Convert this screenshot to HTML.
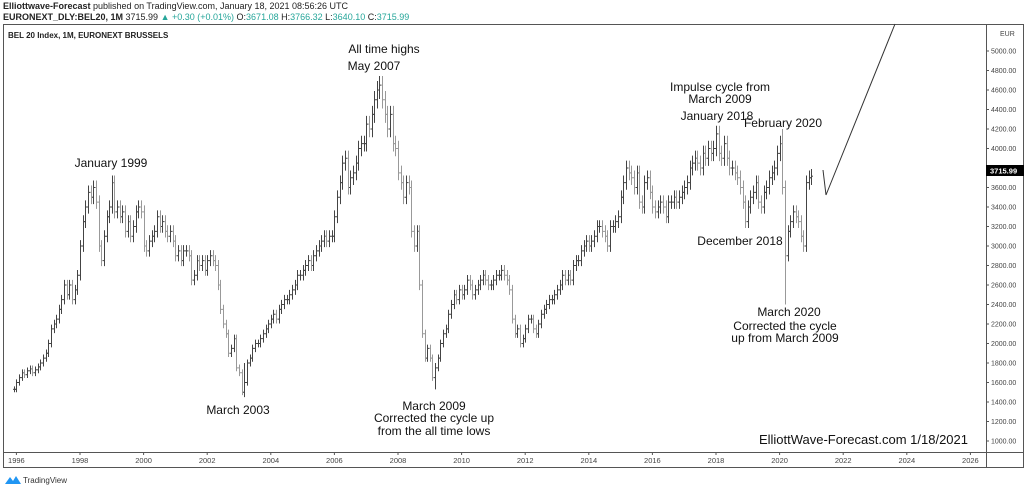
<!DOCTYPE html>
<html><head><meta charset="utf-8">
<style>
body{margin:0;width:1024px;height:489px;background:#fff;overflow:hidden;font-family:"Liberation Sans",sans-serif}
svg text{font-family:"Liberation Sans",sans-serif}
</style></head>
<body>
<svg id="c" width="1024" height="489" xmlns="http://www.w3.org/2000/svg">
<text x="3" y="9" font-size="9" fill="#222"><tspan font-weight="bold">Elliottwave-Forecast</tspan> published on TradingView.com, January 18, 2021 08:56:26 UTC</text>
<text x="3" y="20" font-size="9" fill="#222"><tspan font-weight="bold">EURONEXT_DLY:BEL20, 1M</tspan> 3715.99 <tspan fill="#26a69a">▲ +0.30 (+0.01%)</tspan> O:<tspan fill="#26a69a">3671.08</tspan> H:<tspan fill="#26a69a">3766.32</tspan> L:<tspan fill="#26a69a">3640.10</tspan> C:<tspan fill="#26a69a">3715.99</tspan></text>
<rect x="3.5" y="24.5" width="1020" height="443" fill="none" stroke="#555" stroke-width="1"/>
<line x1="986.5" y1="24" x2="986.5" y2="468" stroke="#555"/>
<line x1="3" y1="452.5" x2="1024" y2="452.5" stroke="#555"/>
<text x="8" y="38" font-size="8" font-weight="bold" fill="#222">BEL 20 Index, 1M, EURONEXT BRUSSELS</text>
<g id="yax"></g><g id="xax"></g><g id="bars"></g>
<polyline points="823,170 826,195 895,24" fill="none" stroke="#333" stroke-width="1"/>
<g font-size="12" fill="#111" text-anchor="middle">
<text x="111" y="167">January 1999</text>
<text x="384" y="53">All time highs</text>
<text x="374" y="70">May 2007</text>
<text x="238" y="414">March 2003</text>
<text x="434" y="410">March 2009</text>
<text x="434" y="422">Corrected the cycle up</text>
<text x="434" y="435">from the all time lows</text>
<text x="720" y="91">Impulse cycle from</text>
<text x="720" y="103">March 2009</text>
<text x="717" y="120">January 2018</text>
<text x="783" y="127">February 2020</text>
<text x="740" y="245">December 2018</text>
<text x="789" y="316">March 2020</text>
<text x="785" y="330">Corrected the cycle</text>
<text x="785" y="342">up from March 2009</text>
</g>
<text x="968" y="444" font-size="13" fill="#111" text-anchor="end">ElliottWave-Forecast.com 1/18/2021</text>
<rect x="986" y="165" width="38" height="11" fill="#000"/>
<text x="990" y="173.5" font-size="7.5" fill="#fff" font-weight="bold">3715.99</text>
<text x="1000" y="36" font-size="7" fill="#444">EUR</text>
<path d="M5 484 l5 -7 l3 4 l3 -5 l5 8 z" fill="#2196f3"/>
<text x="23" y="483" font-size="8" fill="#333">TradingView</text>
</svg>
<script>
const startYear = 1995 + 11/12;
const closes = [1530,
1600,1650,1700,1680,1720,1740,1700,1730,1760,1800,1850,1900,
2000,2150,2200,2250,2350,2450,2600,2500,2600,2450,2550,2700,
3000,3250,3400,3550,3500,3600,3450,3000,2850,3100,3300,3400,
3650,3350,3400,3300,3350,3150,3250,3100,3200,3350,3400,3350,
3000,2950,3050,3100,3150,3300,3200,3250,3150,3100,3150,3050,
2900,2950,2850,2950,2950,2900,2650,2700,2850,2800,2850,2750,
2850,2900,2850,2800,2600,2350,2200,2100,1900,1950,2050,1750,
1700,1500,1600,1800,1850,1950,2000,2000,2050,2100,2150,2200,
2250,2300,2250,2350,2400,2450,2450,2500,2550,2600,2700,2700,
2750,2800,2850,2800,2900,2950,3000,3050,3100,3050,3100,3100,
3300,3500,3650,3850,3900,3600,3700,3750,3850,4000,4050,4050,
4250,4200,4350,4500,4600,4650,4500,4350,4200,4350,4050,4000,
3750,3650,3500,3650,3600,3150,3000,3150,2600,2100,1850,1950,
1850,1650,1750,1850,2000,2100,2150,2300,2400,2500,2450,2550,
2500,2550,2650,2600,2500,2550,2600,2650,2700,2650,2600,2600,
2650,2700,2700,2750,2700,2650,2550,2250,2100,2150,2000,2050,
2150,2250,2250,2150,2100,2200,2300,2350,2400,2450,2450,2500,
2550,2600,2700,2650,2700,2650,2800,2850,2850,2950,3000,3050,
3000,3050,3100,3200,3200,3150,3100,3000,3200,3200,3250,3300,
3500,3650,3800,3750,3700,3600,3750,3450,3400,3650,3700,3550,
3400,3350,3400,3450,3400,3300,3450,3450,3500,3450,3500,3550,
3600,3650,3800,3850,3900,3850,3800,3950,3900,4000,3950,4000,
4150,3950,3900,4050,3900,3800,3800,3750,3700,3600,3450,3250,
3400,3500,3550,3650,3450,3400,3550,3600,3700,3750,3800,3950,
4050,3600,2900,3150,3250,3350,3300,3250,3100,3000,3650,3700,
3716];
const extremeMonths = [87,159,290,291];
const extremeHighs = [1800,1800,4200,3650];
const extremeLows = [1450,1530,3550,2400];
const priceTicks = [1000,1200,1400,1600,1800,2000,2200,2400,2600,2800,3000,3200,3400,3600,3800,4000,4200,4400,4600,4800,5000];
const yearTicks = [1996,1998,2000,2002,2004,2006,2008,2010,2012,2014,2016,2018,2020,2022,2024,2026];

const NS='http://www.w3.org/2000/svg';
function yS(v){return 51+(5000-v)*0.0975;}
function xS(t){return 80+(t-1998)*31.8;}
function mk(tag,attrs,parent){const e=document.createElementNS(NS,tag);for(const k in attrs)e.setAttribute(k,attrs[k]);parent.appendChild(e);return e;}
const yax=document.getElementById('yax'),xax=document.getElementById('xax'),bars=document.getElementById('bars');
priceTicks.forEach(v=>{
  const y=yS(v);
  const t=mk('line',{x1:986,x2:989,y1:y,y2:y,stroke:'#555'},yax);
  
  
  const l=mk('text',{x:991,y:y+2.5,'font-size':7,fill:'#444'},yax);
  l.textContent=v.toFixed(2);
  
  
});
yearTicks.forEach(yr=>{
  const x=xS(yr);
  const t=mk('line',{x1:x,x2:x,y1:452,y2:455,stroke:'#555'},xax);
  
  
  const l=mk('text',{x:x,y:463,'font-size':7.5,fill:'#444','text-anchor':'middle'},xax);
  l.textContent=yr;
  
  
});
for(let i=0;i<closes.length;i++){
  const c=closes[i], o=i>0?closes[i-1]:c;
  let hi=Math.max(o,c)*1.02, lo=Math.min(o,c)*0.98;
  const k=extremeMonths.indexOf(i);
  if(k>=0){hi=Math.max(hi,extremeHighs[k]);lo=Math.min(lo,extremeLows[k]);}
  const x=Math.round(xS(startYear+i/12))+0.5;
  const col=c>=o?'#444':'#999';
  const g=mk('g',{stroke:col,'stroke-width':1},bars);
  
  
  mk('line',{x1:x,x2:x,y1:yS(hi),y2:yS(lo)},g);
  mk('line',{x1:x-1.5,x2:x,y1:yS(o),y2:yS(o)},g);
  mk('line',{x1:x,x2:x+1.5,y1:yS(c),y2:yS(c)},g);
}
</script>
</body></html>
